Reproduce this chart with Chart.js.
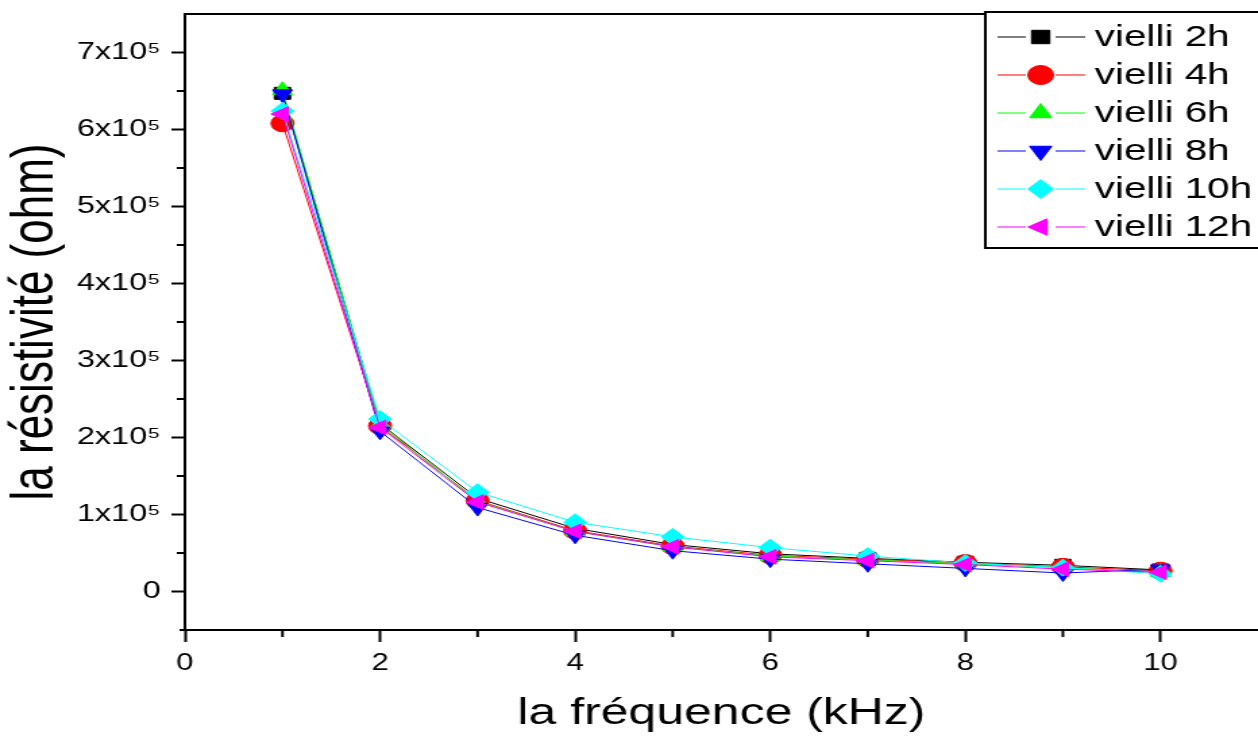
<!DOCTYPE html>
<html>
<head>
<meta charset="utf-8">
<script src="https://cdn.jsdelivr.net/npm/chart.js@4.4.1/dist/chart.umd.min.js"></script>
<style>
  html, body { margin: 0; padding: 0; background: #fff; }
</style>
</head>
<body>
<!-- the reference is stretched horizontally, so the canvas is drawn narrower and widened by its inline style -->
<canvas id="chart" width="932" height="736" style="width:1258px;height:736px;display:block"></canvas>
<script>
const frequences = [1, 2, 3, 4, 5, 6, 7, 8, 9, 10];

const vielli2h  = [647000, 218000, 121000, 82000, 61000, 49000, 43000, 38000, 34000, 28000];
const vielli4h  = [608000, 215000, 118000, 79000, 59000, 47000, 42000, 37000, 32000, 27000];
const vielli6h  = [651000, 217000, 117000, 78000, 58000, 46000, 41000, 36000, 31000, 25000];
const vielli8h  = [646000, 208000, 109000, 73000, 53000, 42000, 36000, 30000, 24000, 29000];
const vielli10h = [624000, 224000, 129000, 90000, 71000, 57000, 46000, 37000, 31000, 23000];
const vielli12h = [620000, 213000, 116000, 78000, 58000, 45000, 40000, 35000, 29000, 25000];

const seriesLabels = ['vielli 2h', 'vielli 4h', 'vielli 6h', 'vielli 8h', 'vielli 10h', 'vielli 12h'];
const seriesValues = [vielli2h, vielli4h, vielli6h, vielli8h, vielli10h, vielli12h];
const seriesColors = ['#000000', '#ff0000', '#00ff00', '#0000ff', '#00ffff', '#ff00ff'];
const seriesMarkers = ['rect', 'circle', 'triangle', 'triangle', 'rectRot', 'triangle'];
const seriesRotations = [0, 0, 0, 180, 0, 270];

const xTicks = [0, 2, 4, 6, 8, 10];
const xMinorTicks = [1, 3, 5, 7, 9];
const yTicks = [0, 100000, 200000, 300000, 400000, 500000, 600000, 700000];
const yMinorTicks = [50000, 150000, 250000, 350000, 450000, 550000, 650000];

const FONT = "'Liberation Sans', Arial, sans-serif";

const datasets = seriesLabels.map((label, i) => ({
    label: label,
    data: frequences.map((f, j) => ({ x: f, y: seriesValues[i][j] })),
    borderColor: seriesColors[i],
    backgroundColor: seriesColors[i],
    borderWidth: 1,
    pointStyle: seriesMarkers[i],
    pointRotation: seriesRotations[i],
    pointRadius: 8.5,
    pointBackgroundColor: seriesColors[i],
    pointBorderColor: seriesColors[i],
    pointBorderWidth: 1,
    tension: 0,
    order: seriesLabels.length - i
}));

// minor ticks + top frame line
const axisExtras = {
    id: 'axisExtras',
    afterDraw(chart) {
        const { ctx, chartArea, scales } = chart;
        ctx.save();
        ctx.strokeStyle = '#000';
        ctx.lineWidth = 2;
        ctx.beginPath();
        ctx.moveTo(chartArea.left - 1, chartArea.top);
        ctx.lineTo(chart.width, chartArea.top);
        ctx.moveTo(chartArea.left - 4, chartArea.bottom);
        ctx.lineTo(chartArea.left, chartArea.bottom);
        yMinorTicks.forEach(v => {
            const y = scales.y.getPixelForValue(v);
            ctx.moveTo(chartArea.left - 6, y);
            ctx.lineTo(chartArea.left, y);
        });
        xMinorTicks.forEach(v => {
            const x = scales.x.getPixelForValue(v);
            ctx.moveTo(x, chartArea.bottom);
            ctx.lineTo(x, chartArea.bottom + 7);
        });
        ctx.stroke();
        ctx.restore();
    }
};

// boxed legend, line through the marker
const legendBox = {
    id: 'legendBox',
    afterDraw(chart) {
        const ctx = chart.ctx;
        const left = 730, top = 12, bottom = 248, firstY = 37, rowH = 38;
        ctx.save();
        ctx.fillStyle = '#fff';
        ctx.fillRect(left, top, chart.width - left + 10, bottom - top);
        ctx.strokeStyle = '#000';
        ctx.lineWidth = 2;
        ctx.strokeRect(left, top, chart.width - left + 10, bottom - top);
        chart.data.datasets.forEach((ds, i) => {
            const y = firstY + i * rowH;
            ctx.strokeStyle = ds.borderColor;
            ctx.fillStyle = ds.backgroundColor;
            ctx.lineWidth = 1;
            ctx.beginPath();
            ctx.moveTo(739, y); ctx.lineTo(760, y);
            ctx.moveTo(782, y); ctx.lineTo(804, y);
            ctx.stroke();
            Chart.helpers.drawPoint(ctx, {
                pointStyle: ds.pointStyle,
                rotation: ds.pointRotation,
                radius: 9.5,
                borderWidth: 1
            }, 771, y);
            ctx.fillStyle = '#000';
            ctx.font = '30px ' + FONT;
            ctx.textBaseline = 'middle';
            ctx.textAlign = 'left';
            ctx.fillText(ds.label, 811, y + 1);
        });
        ctx.restore();
    }
};

const ctx = document.getElementById('chart').getContext('2d');
const chart = new Chart(ctx, {
    type: 'line',
    data: { datasets: datasets },
    options: {
        responsive: false,
        animation: false,
        layout: { autoPadding: false, padding: { top: 14, right: 0, left: 0, bottom: 0 } },
        plugins: {
            legend: { display: false },
            tooltip: { enabled: false }
        },
        scales: {
            x: {
                type: 'linear',
                min: 0,
                max: 11,
                afterBuildTicks: scale => { scale.ticks = xTicks.map(v => ({ value: v })); },
                afterFit: scale => {
                    scale.height = 106;
                    scale.paddingLeft = 0;
                    scale.paddingRight = 0;
                },
                grid: {
                    drawOnChartArea: false,
                    tickLength: 12,
                    tickWidth: 2,
                    tickColor: '#000'
                },
                border: { display: true, color: '#000', width: 2 },
                ticks: {
                    color: '#000',
                    padding: 8,
                    maxRotation: 0,
                    font: { family: FONT, size: 23 }
                },
                title: {
                    display: true,
                    text: 'la fréquence (kHz)',
                    color: '#000',
                    padding: 0,
                    font: { family: FONT, size: 37 }
                }
            },
            y: {
                type: 'linear',
                min: -50000,
                max: 750000,
                afterBuildTicks: scale => { scale.ticks = yTicks.map(v => ({ value: v })); },
                afterFit: scale => {
                    scale.width = 137;
                    scale.paddingTop = 0;
                    scale.paddingBottom = 0;
                },
                grid: {
                    drawOnChartArea: false,
                    tickLength: 10,
                    tickWidth: 2,
                    tickColor: '#000'
                },
                border: { display: true, color: '#000', width: 2 },
                ticks: {
                    color: '#000',
                    padding: 8,
                    font: { family: FONT, size: 24 },
                    callback: v => v === 0 ? '0' : (v / 100000) + 'x10\u2075'
                },
                title: {
                    display: true,
                    text: 'la résistivité (ohm)',
                    color: '#000',
                    padding: 0,
                    font: { family: FONT, size: 44 }
                }
            }
        }
    },
    plugins: [axisExtras, legendBox]
});
</script>
</body>
</html>
